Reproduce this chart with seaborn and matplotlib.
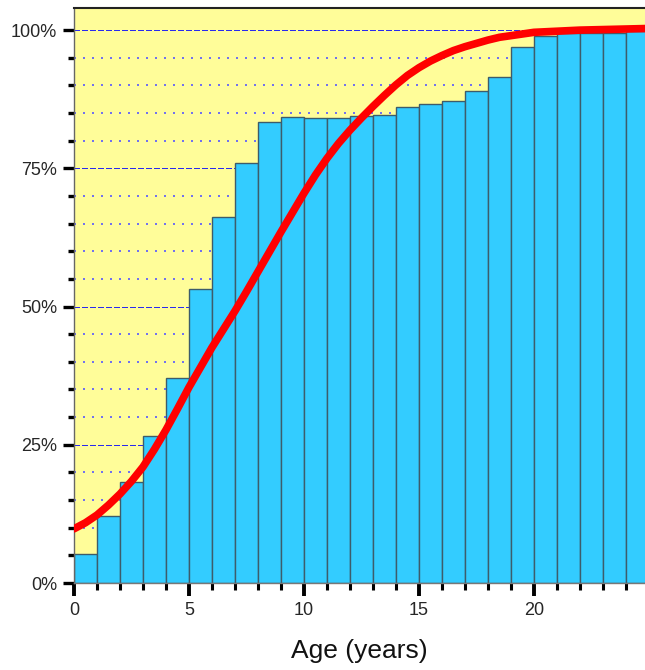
import numpy as np
import pandas as pd
import matplotlib
matplotlib.use("Agg")
import matplotlib.pyplot as plt
from matplotlib.ticker import MultipleLocator, FuncFormatter
import seaborn as sns

# cumulative share per one-year age bin (left edge of bin)
ages = list(range(25))
cum_pct = [5.2, 12.1, 18.2, 26.6, 37.1, 53.2, 66.2, 75.9, 83.3, 84.2,
           84.1, 84.1, 84.4, 84.7, 86.1, 86.7, 87.2, 88.9, 91.6, 96.9,
           98.9, 99.5, 99.5, 99.5, 99.8]

# fitted curve
curve_age = [0, 0.5, 1, 1.5, 2, 2.5, 3, 3.5, 4, 4.5,
             5, 5.5, 6, 6.5, 7, 7.5, 8, 8.5, 9, 9.5,
             10, 10.5, 11, 11.5, 12, 12.5, 13, 13.5, 14, 14.5,
             15, 15.5, 16, 16.5, 17, 17.5, 18, 18.5, 19, 19.5,
             20, 21, 22, 23, 24, 25]
curve_pct = [9.8, 10.9, 12.3, 14.1, 16.1, 18.4, 21.0, 24.2, 27.7, 31.5,
             35.4, 39.0, 42.6, 45.9, 49.2, 52.7, 56.3, 59.9, 63.5, 67.0,
             70.5, 73.8, 76.8, 79.5, 81.9, 84.1, 86.2, 88.2, 90.1, 91.8,
             93.2, 94.4, 95.4, 96.3, 97.0, 97.6, 98.2, 98.7, 99.0, 99.3,
             99.6, 99.8, 100.0, 100.1, 100.2, 100.3]

sns.set_style("ticks")
plt.rcParams["font.family"] = ["Liberation Sans", "DejaVu Sans"]

fig = plt.figure(figsize=(6.45, 6.7), dpi=100)
ax = fig.add_axes([74 / 645, 87 / 670, 571 / 645, 575 / 670])
ax.set_facecolor("#FFFD99")

bars = pd.DataFrame({"age": ages, "pct": cum_pct})
sns.histplot(data=bars, x="age", weights="pct", bins=list(range(26)),
             color="#33CCFF", alpha=1, edgecolor="#3D5C6B", linewidth=1.0,
             ax=ax, zorder=2)

curve = pd.DataFrame({"age": curve_age, "pct": curve_pct})
sns.lineplot(data=curve, x="age", y="pct", color="#FF0000", linewidth=5.5,
             solid_capstyle="round", solid_joinstyle="round", ax=ax, zorder=4)

ax.set_xlim(0, 24.83)
ax.set_ylim(0, 104)

ax.yaxis.set_major_locator(MultipleLocator(25))
ax.yaxis.set_minor_locator(MultipleLocator(5))
ax.yaxis.set_major_formatter(FuncFormatter(lambda v, p: f"{v:.0f}%"))
ax.xaxis.set_major_locator(MultipleLocator(5))
ax.xaxis.set_minor_locator(MultipleLocator(1))

ax.tick_params(axis="y", which="major", length=8, width=2.4, color="black",
               labelsize=13, pad=4, direction="out")
ax.tick_params(axis="y", which="minor", length=4.5, width=2.4, color="black",
               direction="out")
ax.tick_params(axis="x", which="major", length=9, width=2.8, color="black",
               labelsize=13, pad=5, direction="out")
ax.tick_params(axis="x", which="minor", length=5, width=2.2, color="black",
               direction="out")

# grid set after the tick params so every tick keeps the blue colour
ax.set_axisbelow(True)
ax.grid(which="minor", axis="y", color="#7272EE", linewidth=1.44,
        linestyle=(0, (1, 3.5)), antialiased=False, zorder=0)
ax.grid(which="major", axis="y", color="#2A2AEE", linewidth=0.8,
        linestyle=(0, (5, 2)), antialiased=False, zorder=0)

for side in ["top", "left", "bottom"]:
    ax.spines[side].set_visible(True)
ax.spines["right"].set_visible(False)
ax.spines["top"].set_color("#222222")
ax.spines["top"].set_linewidth(1.5)
ax.spines["left"].set_color("#666666")
ax.spines["left"].set_linewidth(1.0)
ax.spines["bottom"].set_color("#777777")
ax.spines["bottom"].set_linewidth(1.0)

ax.set_xlabel("Age (years)", fontsize=19, labelpad=14, color="#111111")
ax.set_ylabel("")

fig.canvas.draw()
for t in ax.yaxis.get_major_ticks():
    t.gridline.set_color("#2A2AEE")
for t in ax.yaxis.get_minor_ticks():
    t.gridline.set_color("#7272EE")

fig.savefig("out.png", dpi=100)
